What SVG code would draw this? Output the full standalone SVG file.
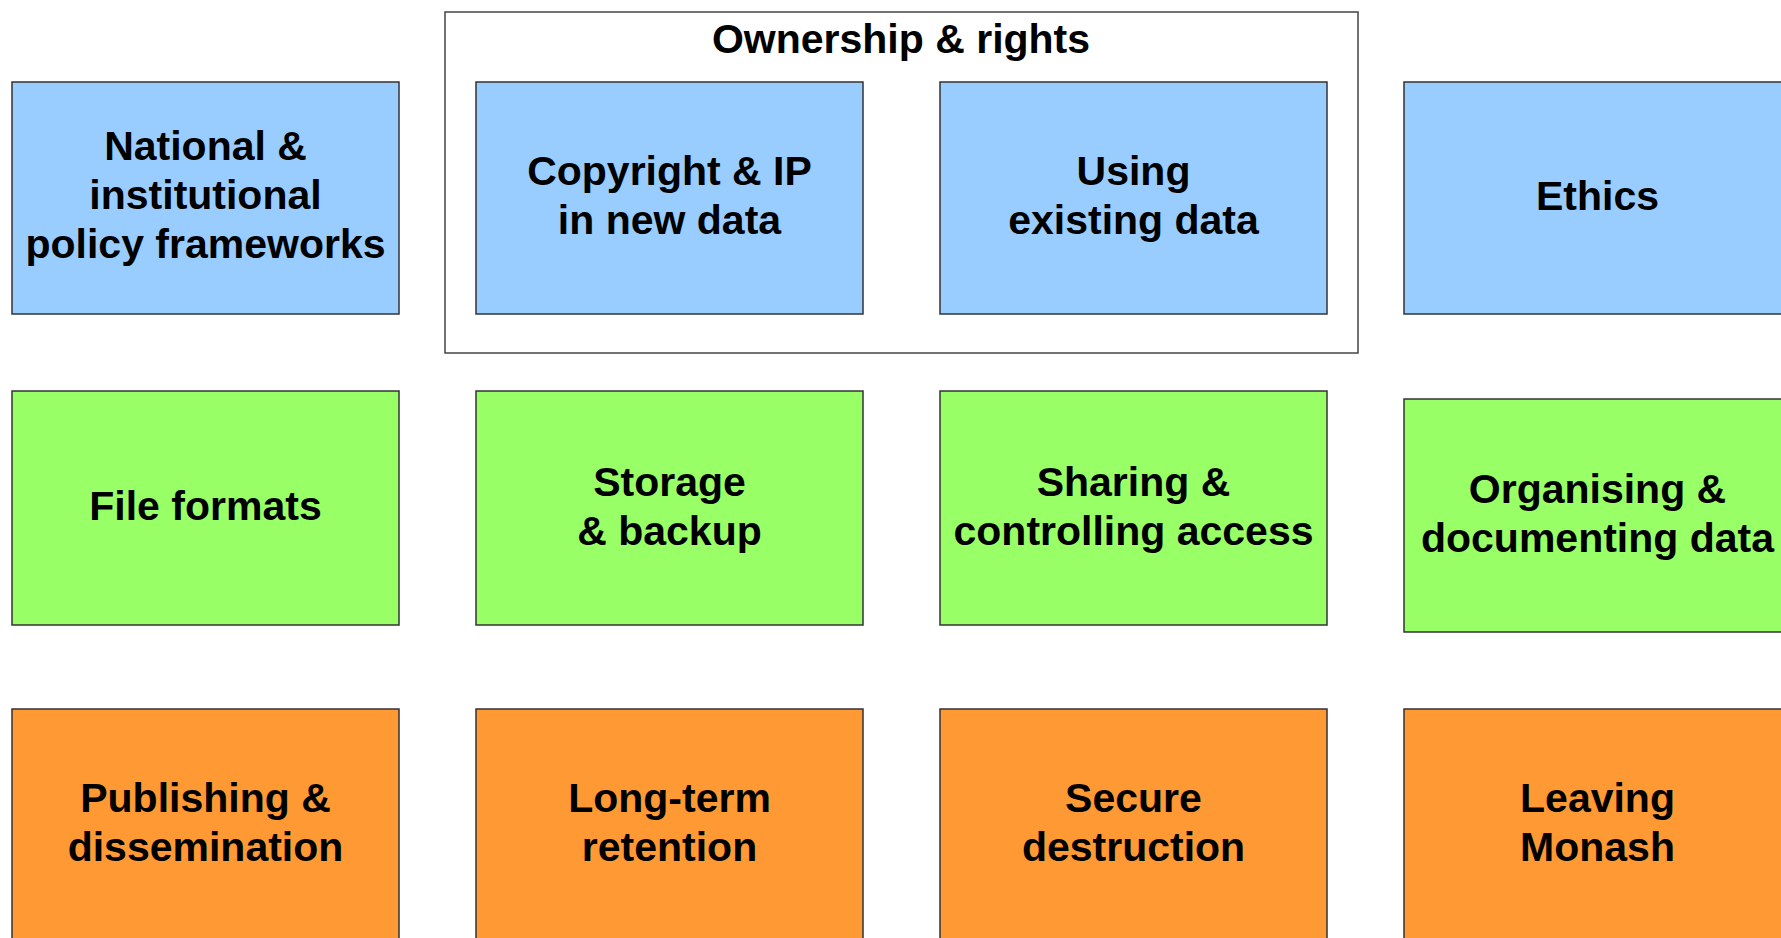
<svg xmlns="http://www.w3.org/2000/svg" width="1781" height="938" viewBox="0 0 1781 938">
<style>
  .blue { fill: #99ccff; stroke: #333; stroke-width: 1.5; }
  .green { fill: #99ff66; stroke: #333; stroke-width: 1.5; }
  .orange { fill: #ff9933; stroke: #333; stroke-width: 1.5; }
  .grp { fill: #ffffff; stroke: #444; stroke-width: 1.5; }
  text { font-family: "Liberation Sans", Arial, sans-serif; font-weight: bold; font-size: 41px; fill: #000; text-anchor: middle; }
</style>
<rect width="1781" height="938" fill="#ffffff"/>
<g id="ownership-rights">
  <rect class="grp" x="445" y="12" width="913" height="341"/>
  <text x="901" y="53">Ownership &amp; rights</text>
</g>
<g id="national-policy">
  <rect class="blue" x="12" y="82" width="387" height="232"/>
  <text x="205.5" y="160">National &amp;</text>
  <text x="205.5" y="209">institutional</text>
  <text x="205.5" y="258">policy frameworks</text>
</g>
<g id="copyright-ip">
  <rect class="blue" x="476" y="82" width="387" height="232"/>
  <text x="669.5" y="185">Copyright &amp; IP</text>
  <text x="669.5" y="234">in new data</text>
</g>
<g id="using-existing">
  <rect class="blue" x="940" y="82" width="387" height="232"/>
  <text x="1133.5" y="185">Using</text>
  <text x="1133.5" y="234">existing data</text>
</g>
<g id="ethics">
  <rect class="blue" x="1404" y="82" width="400" height="232"/>
  <text x="1597.5" y="210">Ethics</text>
</g>
<g id="file-formats">
  <rect class="green" x="12" y="391" width="387" height="234"/>
  <text x="205.5" y="520">File formats</text>
</g>
<g id="storage-backup">
  <rect class="green" x="476" y="391" width="387" height="234"/>
  <text x="669.5" y="496">Storage</text>
  <text x="669.5" y="545">&amp; backup</text>
</g>
<g id="sharing-access">
  <rect class="green" x="940" y="391" width="387" height="234"/>
  <text x="1133.5" y="496">Sharing &amp;</text>
  <text x="1133.5" y="545">controlling access</text>
</g>
<g id="organising-documenting">
  <rect class="green" x="1404" y="399" width="400" height="233"/>
  <text x="1597.5" y="503">Organising &amp;</text>
  <text x="1597.5" y="552">documenting data</text>
</g>
<g id="publishing">
  <rect class="orange" x="12" y="709" width="387" height="300"/>
  <text x="205.5" y="812">Publishing &amp;</text>
  <text x="205.5" y="861">dissemination</text>
</g>
<g id="long-term">
  <rect class="orange" x="476" y="709" width="387" height="300"/>
  <text x="669.5" y="812">Long-term</text>
  <text x="669.5" y="861">retention</text>
</g>
<g id="secure-destruction">
  <rect class="orange" x="940" y="709" width="387" height="300"/>
  <text x="1133.5" y="812">Secure</text>
  <text x="1133.5" y="861">destruction</text>
</g>
<g id="leaving-monash">
  <rect class="orange" x="1404" y="709" width="400" height="300"/>
  <text x="1597.5" y="812">Leaving</text>
  <text x="1597.5" y="861">Monash</text>
</g>
<g id="connectors"></g>
</svg>
